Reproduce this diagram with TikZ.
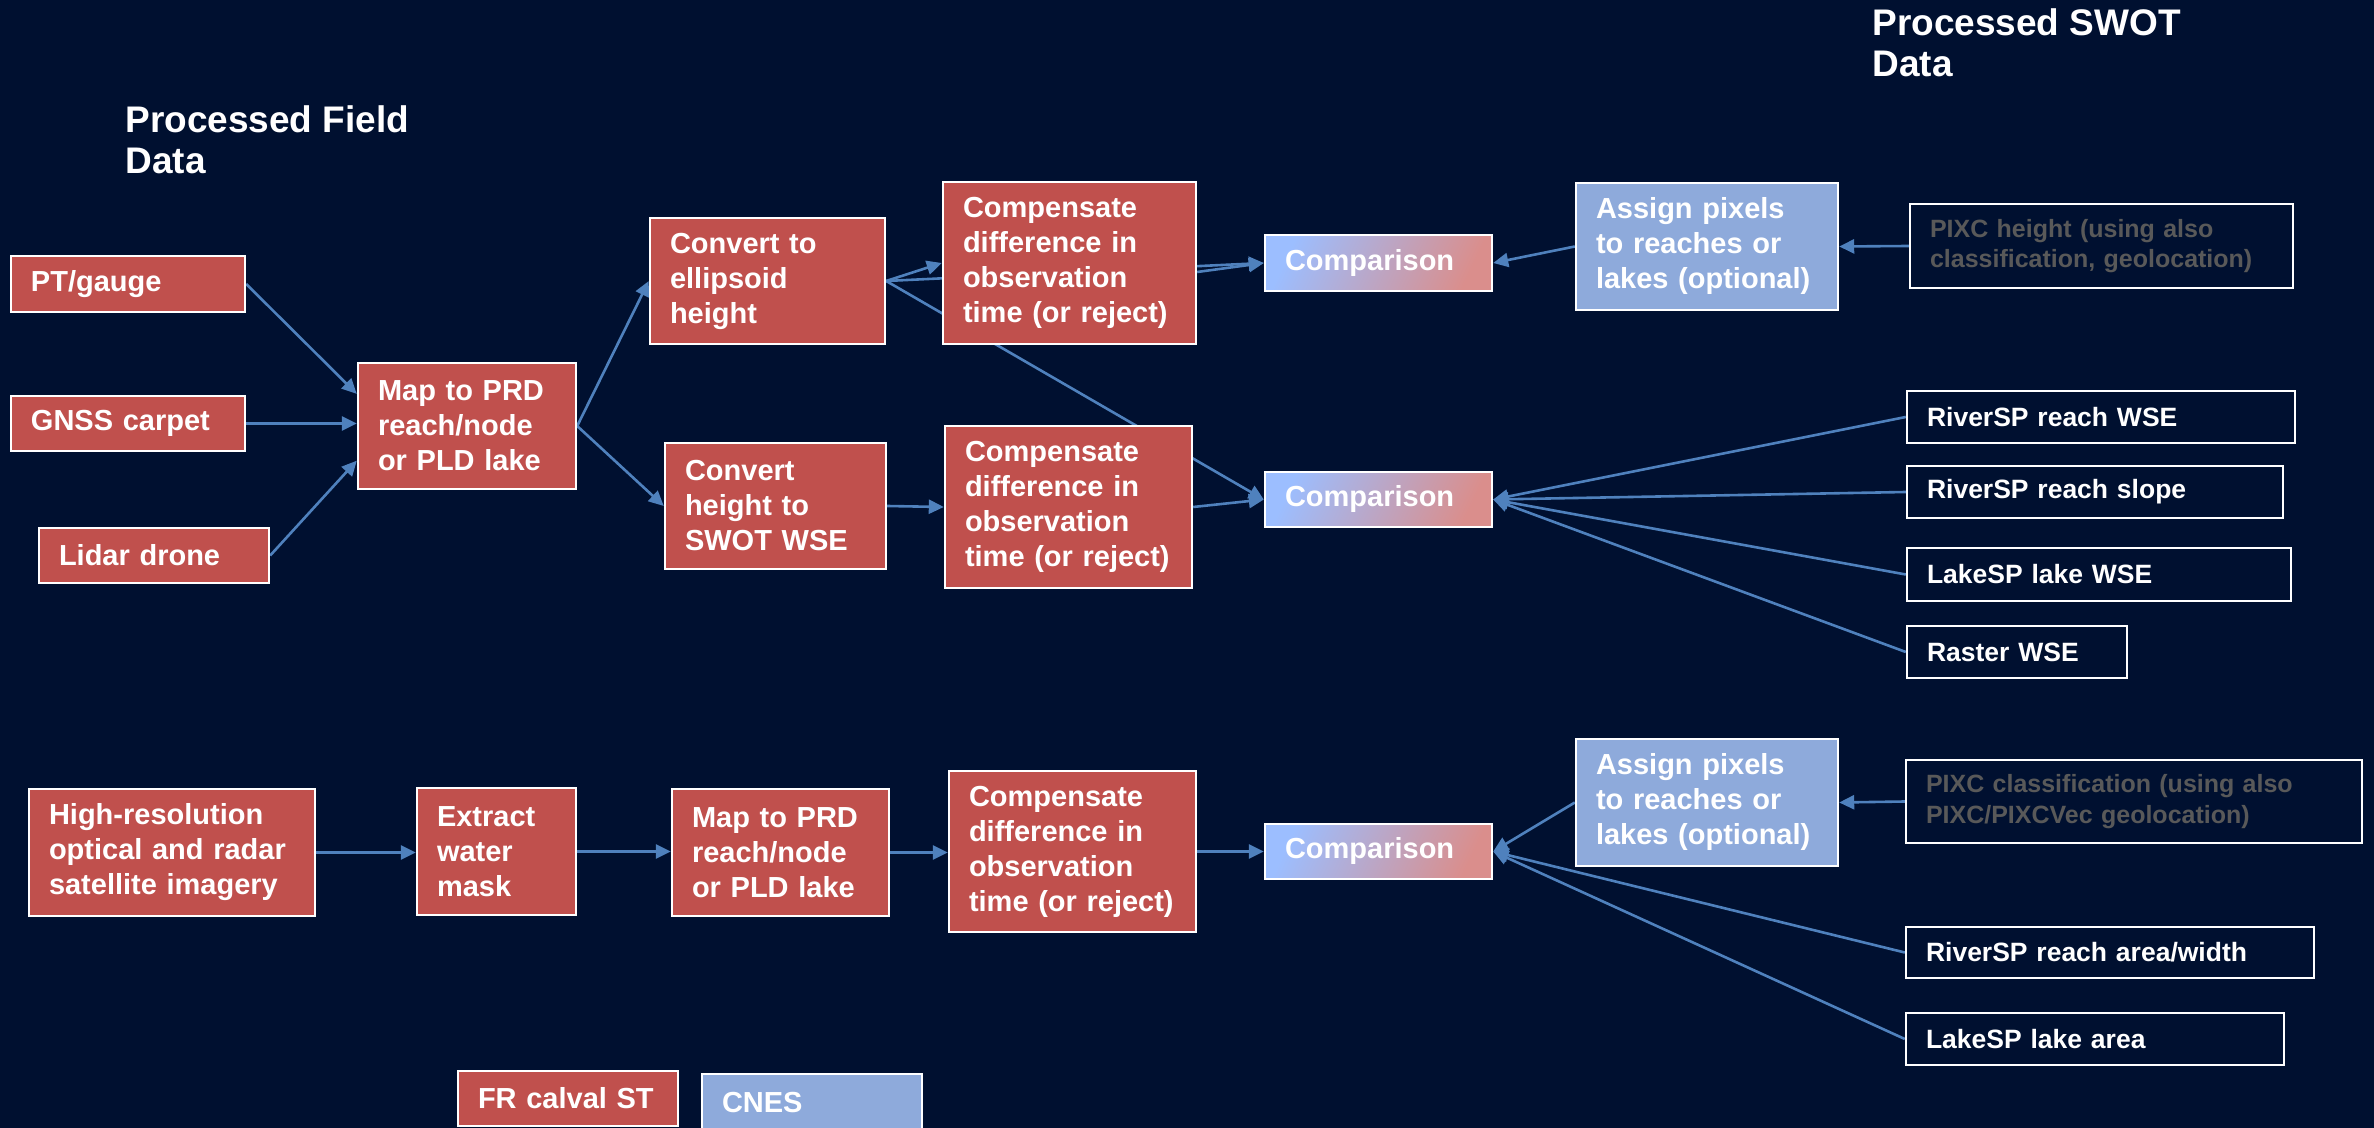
\documentclass[tikz,border=0pt]{standalone}
\usepackage{fontspec}
\setmainfont{Liberation Sans}
\usetikzlibrary{arrows.meta,calc}

\definecolor{bgnavy}{HTML}{001030}
\definecolor{boxred}{HTML}{C0504D}
\definecolor{boxblue}{HTML}{8EAADB}
\definecolor{linkblue}{HTML}{4F81BD}
\definecolor{cmpleft}{HTML}{9CBEFF}
\definecolor{cmpright}{HTML}{DA8E8C}
\definecolor{dimgray}{HTML}{595959}

\pgfdeclarelayer{canvas}
\pgfdeclarelayer{edges}
\pgfsetlayers{canvas,edges,main}

% box from corner (x1,y1) to corner (x2,y2), text set flush left
\newcommand{\placebox}[7]{%
  \pgfmathsetmacro{\bxw}{(#5-#3)*0.5}%
  \pgfmathsetmacro{\bxh}{(#6-#4)*0.5}%
  \pgfmathsetmacro{\bxt}{(#5-#3)*0.5-20}%
  \node[#1, minimum width=\bxw pt, minimum height=\bxh pt, text width=\bxt pt]
    (#2) at ({(#3+#5)/2},{(#4+#6)/2}) {#7};}

\tikzset{
  basebox/.style={draw=white, line width=1.2pt, inner xsep=10pt, inner ysep=0pt,
    align=left, text=white, font=\fontsize{14.5}{17.5}\selectfont\bfseries},
  redbox/.style={basebox, fill=boxred},
  bluebox/.style={basebox, fill=boxblue},
  darkbox/.style={basebox, fill=bgnavy, font=\fontsize{13.25}{16}\selectfont\bfseries},
  dimbox/.style={darkbox, text=dimgray, font=\fontsize{12.5}{15.25}\selectfont\bfseries},
  cmpbox/.style={basebox, left color=cmpleft, right color=cmpright, shading angle=65},
  heading/.style={anchor=north west, inner sep=0pt, align=left, text=white,
    font=\fontsize{18.5}{20.5}\selectfont\bfseries},
  link/.style={draw=linkblue, line width=1.3pt, -{Triangle[length=7.5pt,width=7pt]}},
}

\begin{document}
\begin{tikzpicture}[x=0.5pt,y=-0.5pt]
\useasboundingbox (0,0) rectangle (2374,1128);
\begin{pgfonlayer}{canvas}
  \fill[bgnavy] (0,0) rectangle (2374,1128);
\end{pgfonlayer}

% headings
\node[heading] (hfield) at (125,105) {Processed Field\\Data};
\node[heading] (hswot) at (1872,8) {Processed SWOT\\Data};

% height chain
\placebox{redbox}{pt}{11}{256}{245}{312}{PT/gauge}
\placebox{redbox}{gnss}{11}{396}{245}{451}{GNSS carpet}
\placebox{redbox}{lidar}{39}{528}{269}{583}{Lidar drone}
\placebox{redbox}{mapa}{358}{363}{576}{489}{Map to PRD\\reach/node\\or PLD lake}
\placebox{redbox}{convell}{650}{218}{885}{344}{Convert to\\ellipsoid\\height}
\placebox{redbox}{convwse}{665}{443}{886}{569}{Convert\\height to\\SWOT WSE}
\placebox{redbox}{compa}{943}{182}{1196}{344}{Compensate\\difference in\\observation\\time (or reject)}
\placebox{redbox}{compb}{945}{426}{1192}{588}{Compensate\\difference in\\observation\\time (or reject)}
\placebox{cmpbox}{cmpa}{1265}{235}{1492}{291}{Comparison}
\placebox{cmpbox}{cmpb}{1265}{472}{1492}{527}{Comparison}
\placebox{bluebox}{assigna}{1576}{183}{1838}{310}{Assign pixels\\to reaches or\\lakes (optional)}
\placebox{dimbox}{pixch}{1910}{204}{2293}{288}{PIXC height (using also\\classification, geolocation)}
\placebox{darkbox}{rwse}{1907}{391}{2295}{443}{RiverSP reach WSE}
\placebox{darkbox}{rslope}{1907}{466}{2283}{518}{RiverSP reach slope}
\placebox{darkbox}{lwse}{1907}{548}{2291}{601}{LakeSP lake WSE}
\placebox{darkbox}{raster}{1907}{626}{2127}{678}{Raster WSE}

% extent chain
\placebox{redbox}{hires}{29}{789}{315}{916}{High-resolution\\optical and radar\\satellite imagery}
\placebox{redbox}{mask}{417}{788}{576}{915}{Extract\\water\\mask}
\placebox{redbox}{mapb}{672}{789}{889}{916}{Map to PRD\\reach/node\\or PLD lake}
\placebox{redbox}{compc}{949}{771}{1196}{932}{Compensate\\difference in\\observation\\time (or reject)}
\placebox{cmpbox}{cmpc}{1265}{824}{1492}{879}{Comparison}
\placebox{bluebox}{assignb}{1576}{739}{1838}{866}{Assign pixels\\to reaches or\\lakes (optional)}
\placebox{dimbox}{pixcc}{1906}{760}{2362}{843}{PIXC classification (using also\\PIXC/PIXCVec geolocation)}
\placebox{darkbox}{rarea}{1906}{927}{2314}{978}{RiverSP reach area/width}
\placebox{darkbox}{larea}{1906}{1013}{2284}{1065}{LakeSP lake area}

% legend
\placebox{redbox}{legfr}{458}{1071}{678}{1126}{FR calval ST}
\placebox{bluebox}{legcnes}{702}{1074}{922}{1132}{CNES}

% connectors
\begin{pgfonlayer}{edges}
  \draw[link] (pt.east) -- ($(mapa.north west)!0.25!(mapa.south west)$);
  \draw[link] (gnss.east) -- (gnss.east -| mapa.west);
  \draw[link] (lidar.east) -- ($(mapa.north west)!0.77!(mapa.south west)$);
  \draw[link] (mapa.east) -- (convell.west);
  \draw[link] (mapa.east) -- (convwse.west);
  \draw[link] (convell.east) -- (compa.west);
  \draw[link] (convell.east) -- (cmpa.west);
  \draw[link] (convell.east) -- (cmpb.west);
  \draw[link] ($(compa.east)+(0,9)$) -- (cmpa.west);
  \draw[link] (convwse.east) -- (compb.west);
  \draw[link] (compb.east) -- (cmpb.west);
  \draw[link] (assigna.west) -- (cmpa.east);
  \draw[link] (pixch.west) -- (assigna.east);
  \draw[link] (rwse.west) -- (cmpb.east);
  \draw[link] (rslope.west) -- (cmpb.east);
  \draw[link] (lwse.west) -- (cmpb.east);
  \draw[link] (raster.west) -- (cmpb.east);
  \draw[link] (hires.east) -- (hires.east -| mask.west);
  \draw[link] (mask.east) -- (mask.east -| mapb.west);
  \draw[link] (mapb.east) -- (mapb.east -| compc.west);
  \draw[link] (compc.east) -- (cmpc.west);
  \draw[link] (assignb.west) -- (cmpc.east);
  \draw[link] (pixcc.west) -- (assignb.east);
  \draw[link] (rarea.west) -- (cmpc.east);
  \draw[link] (larea.west) -- (cmpc.east);
\end{pgfonlayer}
\end{tikzpicture}
\end{document}
